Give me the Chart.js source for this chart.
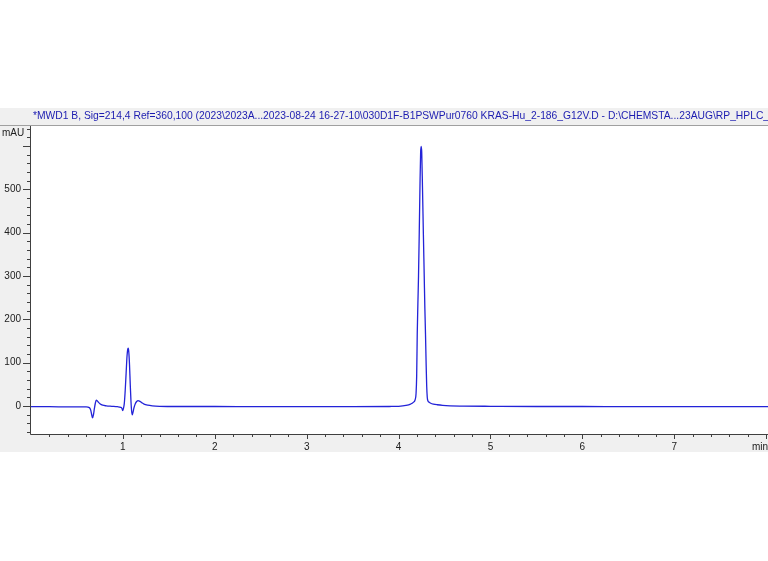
<!DOCTYPE html>
<html>
<head>
<meta charset="utf-8">
<script src="https://cdn.jsdelivr.net/npm/chart.js@4.4.0/dist/chart.umd.min.js"></script>
<style>
html,body{margin:0;padding:0;background:#fff;}
canvas{display:block;}
</style>
</head>
<body>
<canvas id="chrom" width="768" height="561"></canvas>
<script>
// Titel / Achsen
const titleText = '*MWD1 B, Sig=214,4 Ref=360,100 (2023\\2023A...2023-08-24 16-27-10\\030D1F-B1PSWPur0760 KRAS-Hu_2-186_G12V.D - D:\\CHEMSTA...23AUG\\RP_HPLC_';
const yUnit = 'mAU';
const xUnit = 'min';
const xTickLabels = [1, 2, 3, 4, 5, 6, 7];
const yTickLabels = [0, 100, 200, 300, 400, 500];

// Chromatogramm
const timeMin = [
  0.00, 0.20, 0.40, 0.60, 0.635, 0.65, 0.66, 0.67, 0.68, 0.69, 0.70, 0.71, 0.72, 0.735, 0.75, 0.78, 0.82, 0.88, 0.94,
  0.975, 0.99, 0.997, 1.005, 1.015, 1.025, 1.035, 1.045, 1.052, 1.058, 1.064, 1.072, 1.08, 1.088, 1.095, 1.102, 1.11,
  1.12, 1.135, 1.15, 1.165, 1.18, 1.20, 1.23, 1.27, 1.32, 1.40, 1.60, 2.00, 2.50, 3.00, 3.50, 3.90, 4.00, 4.08,
  4.13, 4.16, 4.18, 4.19, 4.197, 4.203, 4.21, 4.217, 4.225, 4.233, 4.24, 4.246, 4.252, 4.26, 4.27, 4.279, 4.286,
  4.293, 4.30, 4.306, 4.312, 4.32, 4.335, 4.35, 4.38, 4.42, 4.48, 4.56, 4.70, 5.00, 5.50, 6.00, 6.50, 7.00, 7.50, 8.02
];
const signalMAU = [
  -2, -2, -2.5, -2.5, -4, -10, -20, -28, -20, -6, 6, 13, 12, 8, 5, 1.5, 0, -1, -2,
  -3.5, -6, -11, -7, 5, 35, 75, 115, 130, 133, 125, 95, 50, 10, -12, -21, -15,
  -5, 5, 10, 12, 11, 8, 4, 1.5, 0, -1, -1.5, -1.5, -2, -2, -2, -1.5, -1, 1,
  4, 8, 14, 28, 70, 165, 235, 300, 400, 510, 585, 599, 585, 505, 395, 300, 225,
  165, 95, 45, 20, 11, 8, 6, 4, 2.5, 1, 0, -0.5, -1, -1.5, -1.5, -2, -2, -2, -2
];

const PLOT_LEFT = 31, PLOT_TOP = 126, PLOT_BOTTOM = 434, BAND_TOP = 108, BAND_BOTTOM = 452;
const FONT = '"Liberation Sans", Arial, sans-serif';

const framePlugin = {
  id: 'frame',
  beforeDraw(chart) {
    const ctx = chart.ctx, a = chart.chartArea;
    ctx.save();
    ctx.fillStyle = '#f0f0f0';
    ctx.fillRect(0, BAND_TOP, chart.width, BAND_BOTTOM - BAND_TOP);
    ctx.fillStyle = '#ffffff';
    ctx.fillRect(a.left, a.top, a.right - a.left, a.bottom - a.top);
    ctx.strokeStyle = '#a0a0a0';
    ctx.lineWidth = 1;
    ctx.beginPath();
    ctx.moveTo(0, a.top - 0.5);
    ctx.lineTo(chart.width, a.top - 0.5);
    ctx.stroke();
    // Titelzeile
    ctx.fillStyle = '#1c1cb0';
    ctx.font = '10.3px ' + FONT;
    ctx.textBaseline = 'middle';
    ctx.fillText(titleText, 33, 116);
    ctx.restore();
  },
  afterDraw(chart) {
    const ctx = chart.ctx, a = chart.chartArea;
    const xs = chart.scales.x, ys = chart.scales.y;
    ctx.save();
    ctx.strokeStyle = '#404040';
    ctx.lineWidth = 1;
    ctx.beginPath();
    ctx.moveTo(a.left - 0.5, a.top);
    ctx.lineTo(a.left - 0.5, a.bottom + 0.5);
    ctx.lineTo(a.right, a.bottom + 0.5);
    // x Teilstriche
    for (let v = 0.2; v <= xs.max + 1e-6; v += 0.2) {
      const px = Math.round(xs.getPixelForValue(v)) + 0.5;
      const major = Math.abs(v - Math.round(v)) < 1e-6;
      ctx.moveTo(px, a.bottom);
      ctx.lineTo(px, a.bottom + (major ? 5 : 3));
    }
    // y Teilstriche
    for (let v = -60; v <= ys.max; v += 20) {
      const py = Math.round(ys.getPixelForValue(v)) + 0.5;
      const major = v % 100 === 0;
      ctx.moveTo(a.left, py);
      ctx.lineTo(a.left - (major ? 8 : 4), py);
    }
    ctx.stroke();
    ctx.fillStyle = '#202020';
    ctx.font = '10px ' + FONT;
    ctx.textBaseline = 'middle';
    ctx.textAlign = 'left';
    ctx.fillText(yUnit, 2, 133);
    ctx.fillText(xUnit, 752, 447);
    ctx.restore();
  }
};

new Chart(document.getElementById('chrom'), {
  type: 'line',
  data: {
    datasets: [{
      data: timeMin.map((t, i) => ({ x: t, y: signalMAU[i] })),
      borderColor: '#2323d8',
      borderWidth: 1.3,
      pointRadius: 0,
      cubicInterpolationMode: 'monotone',
      fill: false
    }]
  },
  options: {
    responsive: false,
    animation: false,
    events: [],
    layout: { padding: { top: PLOT_TOP, left: 0, right: 0, bottom: 561 - BAND_BOTTOM } },
    plugins: { legend: { display: false }, tooltip: { enabled: false } },
    scales: {
      x: {
        type: 'linear', min: 0, max: 8.02,
        afterBuildTicks: s => { s.ticks = xTickLabels.map(v => ({ value: v })); },
        afterFit: s => { s.height = BAND_BOTTOM - PLOT_BOTTOM; },
        grid: { display: false, drawTicks: false },
        border: { display: false },
        ticks: { color: '#202020', font: { size: 10, family: FONT }, padding: 7, maxRotation: 0, autoSkip: false }
      },
      y: {
        type: 'linear', min: -65, max: 646,
        afterBuildTicks: s => { s.ticks = yTickLabels.map(v => ({ value: v })); },
        afterFit: s => { s.width = PLOT_LEFT; },
        grid: { display: false, drawTicks: false },
        border: { display: false },
        ticks: { color: '#202020', font: { size: 10, family: FONT }, padding: 10 }
      }
    }
  },
  plugins: [framePlugin]
});
</script>
</body>
</html>
